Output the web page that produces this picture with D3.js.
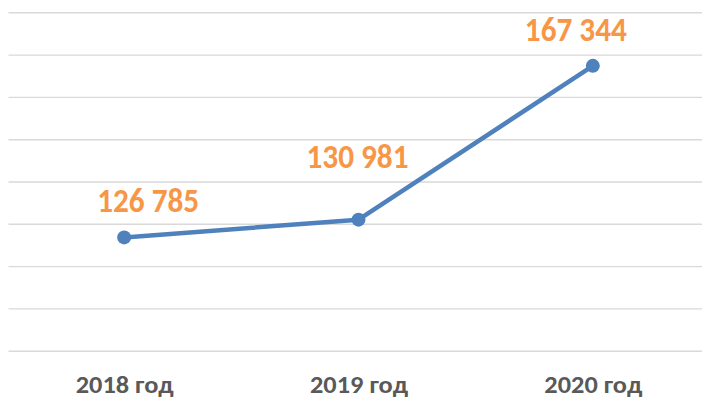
<!DOCTYPE html>
<html>
<head>
<meta charset="utf-8">
<script src="https://cdn.jsdelivr.net/npm/d3@7"></script>
<style>
  body { margin: 0; background: #fff; }
  svg { display: block; }
  text { font-family: Carlito, Calibri, 'Open Sans', sans-serif; font-weight: 700; }
</style>
</head>
<body>
<script>
// data
const years = ['2018 год', '2019 год', '2020 год'];
const values = [126785, 130981, 167344];
const valueLabels = ['126 785', '130 981', '167 344'];
const yTicks = [100000, 110000, 120000, 130000, 140000, 150000, 160000, 170000, 180000];

// label placement (manual, like the original)
const labelDx = [24, -1, -17];
const labelDy = [-25, -52, -25];

const width = 702;
const height = 400;

const svg = d3.select('body').append('svg')
  .attr('width', width)
  .attr('height', height);

const x = d3.scalePoint()
  .domain(years)
  .range([7, 710])
  .padding(0.5);

const y = d3.scaleLinear()
  .domain([100000, 180000])
  .range([350.7, 12.3]);

// gridlines
const grid = svg.append('g')
  .attr('transform', 'translate(8.5,0)')
  .call(d3.axisLeft(y).tickValues(yTicks).tickSize(-(width - 8.5)).tickFormat(''));
grid.select('.domain').remove();
grid.selectAll('.tick line')
  .attr('stroke', '#d9d9d9')
  .attr('stroke-width', 1.4);

// category axis
const xAxis = svg.append('g')
  .attr('transform', 'translate(0,373)')
  .call(d3.axisBottom(x).tickSize(0).tickPadding(0));
xAxis.select('.domain').remove();
xAxis.selectAll('.tick text')
  .attr('dy', '0')
  .attr('y', 20)
  .attr('fill', '#595959')
  .attr('font-size', 25)
  .attr('textLength', 98)
  .attr('lengthAdjust', 'spacingAndGlyphs');

// line
const line = d3.line()
  .x((d, i) => x(years[i]))
  .y(d => y(d));

svg.append('path')
  .datum(values)
  .attr('d', line)
  .attr('fill', 'none')
  .attr('stroke', '#4f81bd')
  .attr('stroke-width', 4.5)
  .attr('stroke-linejoin', 'round');

svg.selectAll('.dot')
  .data(values)
  .enter().append('circle')
  .attr('class', 'dot')
  .attr('cx', (d, i) => x(years[i]))
  .attr('cy', d => y(d))
  .attr('r', 7)
  .attr('fill', '#4f81bd');

// value labels
svg.selectAll('.value')
  .data(values)
  .enter().append('text')
  .attr('class', 'value')
  .attr('x', (d, i) => x(years[i]) + labelDx[i])
  .attr('y', (d, i) => y(d) + labelDy[i])
  .attr('text-anchor', 'middle')
  .attr('fill', '#f79646')
  .attr('font-size', 34)
  .attr('textLength', 102)
  .attr('lengthAdjust', 'spacingAndGlyphs')
  .text((d, i) => valueLabels[i]);
</script>
</body>
</html>
